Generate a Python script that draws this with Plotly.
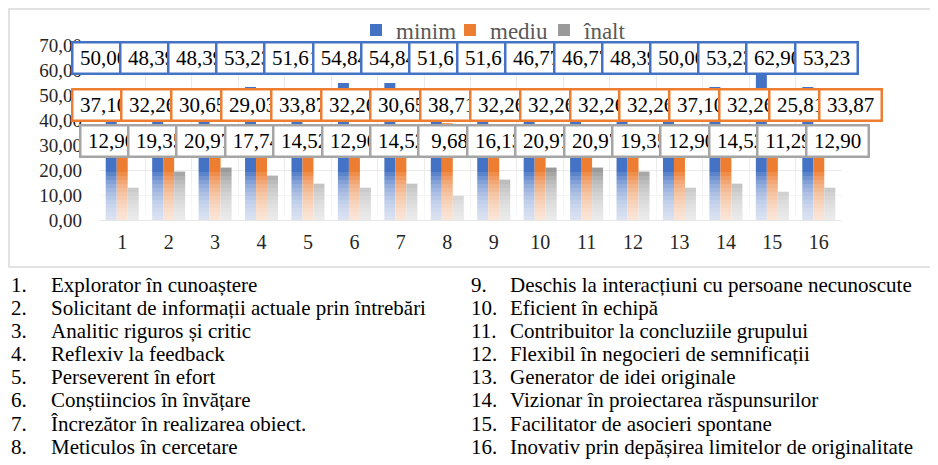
import plotly.graph_objects as go

categories = [str(i) for i in range(1, 17)]
minim = [50.00, 48.39, 48.39, 53.23, 51.61, 54.84, 54.84, 51.61,
         51.61, 46.77, 46.77, 48.39, 50.00, 53.23, 62.90, 53.23]
mediu = [37.10, 32.26, 30.65, 29.03, 33.87, 32.26, 30.65, 38.71,
         32.26, 32.26, 32.26, 32.26, 37.10, 32.26, 25.81, 33.87]
inalt = [12.90, 19.35, 20.97, 17.74, 14.52, 12.90, 14.52, 9.68,
         16.13, 20.97, 20.97, 19.35, 12.90, 14.52, 11.29, 12.90]
y_ticks = [0, 10, 20, 30, 40, 50, 60, 70]

items_left = [
    "Explorator în cunoaștere",
    "Solicitant de informații actuale prin întrebări",
    "Analitic riguros și critic",
    "Reflexiv la feedback",
    "Perseverent în efort",
    "Conștiincios în învățare",
    "Încrezător în realizarea obiect.",
    "Meticulos în cercetare",
]
items_right = [
    "Deschis la interacțiuni cu persoane necunoscute",
    "Eficient în echipă",
    "Contribuitor la concluziile grupului",
    "Flexibil în negocieri de semnificații",
    "Generator de idei originale",
    "Vizionar în proiectarea răspunsurilor",
    "Facilitator de asocieri spontane",
    "Inovativ prin depășirea limitelor de originalitate",
]

BLUE, ORANGE, GRAY = "#4472C4", "#ED7D31", "#A5A5A5"
GRAY_BAR = "#9A9A9A"
SERIF = "Liberation Serif, Times New Roman, serif"

# the page body has an 8px margin, so the figure starts at (8, 8) in the window
OFF = 8
W, H = 938 - OFF, 465 - OFF
# plot area in window pixels: x 99..842, y 45..220
PL, PR, PT, PB = 99, 842, 45, 220
PW, PH = PR - PL, PB - PT


def px(x):
    return (x - PL) / PW


def py(y):
    return (PB - y) / PH


def fmt(v):
    return f"{v:.2f}".replace(".", ",")


fig = go.Figure()
for name, vals, col in [("minim", minim, BLUE), ("mediu", mediu, ORANGE), ("înalt", inalt, GRAY_BAR)]:
    fig.add_trace(go.Bar(x=categories, y=vals, name=name, marker_color=col,
                         marker_line=dict(width=0)))

# data label boxes, placed in rows like the original chart
rows = [(minim, BLUE, 58, 103, 48.2), (mediu, ORANGE, 105, 103, 49.8), (inalt, GRAY, 141, 111, 48.4)]
annotations = []
for vals, col, yc, x0, step in rows:
    for i, v in enumerate(vals):
        annotations.append(dict(
            x=px(x0 + step * i), y=py(yc), xref="paper", yref="paper",
            text=fmt(v), showarrow=False, xanchor="center", yanchor="middle",
            font=dict(family=SERIF, size=21, color="black"),
            bgcolor="white", bordercolor=col, borderwidth=2.5, borderpad=2,
            width=56, height=25,
        ))

# numbered list under the chart
for k, (a, b) in enumerate(zip(items_left, items_right)):
    yy = py(285 + 23.1 * k)
    for xn, xt, num, txt in [(9, 49, k + 1, a), (469, 508, k + 9, b)]:
        annotations.append(dict(x=px(xn), y=yy, xref="paper", yref="paper", text=f"{num}.",
                                showarrow=False, xanchor="left", yanchor="middle",
                                font=dict(family=SERIF, size=21, color="black")))
        annotations.append(dict(x=px(xt), y=yy, xref="paper", yref="paper", text=txt,
                                showarrow=False, xanchor="left", yanchor="middle",
                                font=dict(family=SERIF, size=21, color="black")))

# chart frame + white fade at the bottom of the bars
shapes = [dict(type="rect", xref="paper", yref="paper", x0=px(9), x1=px(935),
               y0=py(9), y1=py(267), line=dict(color="#D9D9D9", width=1.5))]
for k in range(1, 13):
    shapes.append(dict(type="rect", xref="paper", yref="y", x0=0, x1=1, y0=0, y1=1.6 * k,
                       fillcolor="white", opacity=0.13, line=dict(width=0), layer="above"))

fig.update_layout(
    width=W, height=H,
    margin=dict(l=PL - OFF, r=W - (PR - OFF), t=PT - OFF, b=H - (PB - OFF), autoexpand=False),
    paper_bgcolor="white", plot_bgcolor="white",
    separators=", ",
    barmode="group", bargap=0.29, bargroupgap=0,
    font=dict(family=SERIF, color="#404040"),
    legend=dict(orientation="h", x=px(356), y=py(30), xanchor="left", yanchor="middle",
                font=dict(family=SERIF, size=23, color="#595959"),
                entrywidth=49, bgcolor="rgba(0,0,0,0)"),
    annotations=annotations,
    shapes=shapes,
)
fig.update_xaxes(showgrid=True, gridcolor="#EBEBEB", tickson="boundaries", ticks="",
                 tickfont=dict(family=SERIF, size=20, color="#262626"), automargin=False,
                 showline=True, linecolor="#E8E8E8", ticklabelstandoff=4)
fig.update_yaxes(range=[0, 70], tickvals=y_ticks, tickformat=".2f", showgrid=True,
                 gridcolor="#EBEBEB", zeroline=False, automargin=False,
                 tickfont=dict(family=SERIF, size=19, color="#262626"), ticklabelstandoff=16)

fig.write_html("out.html")
